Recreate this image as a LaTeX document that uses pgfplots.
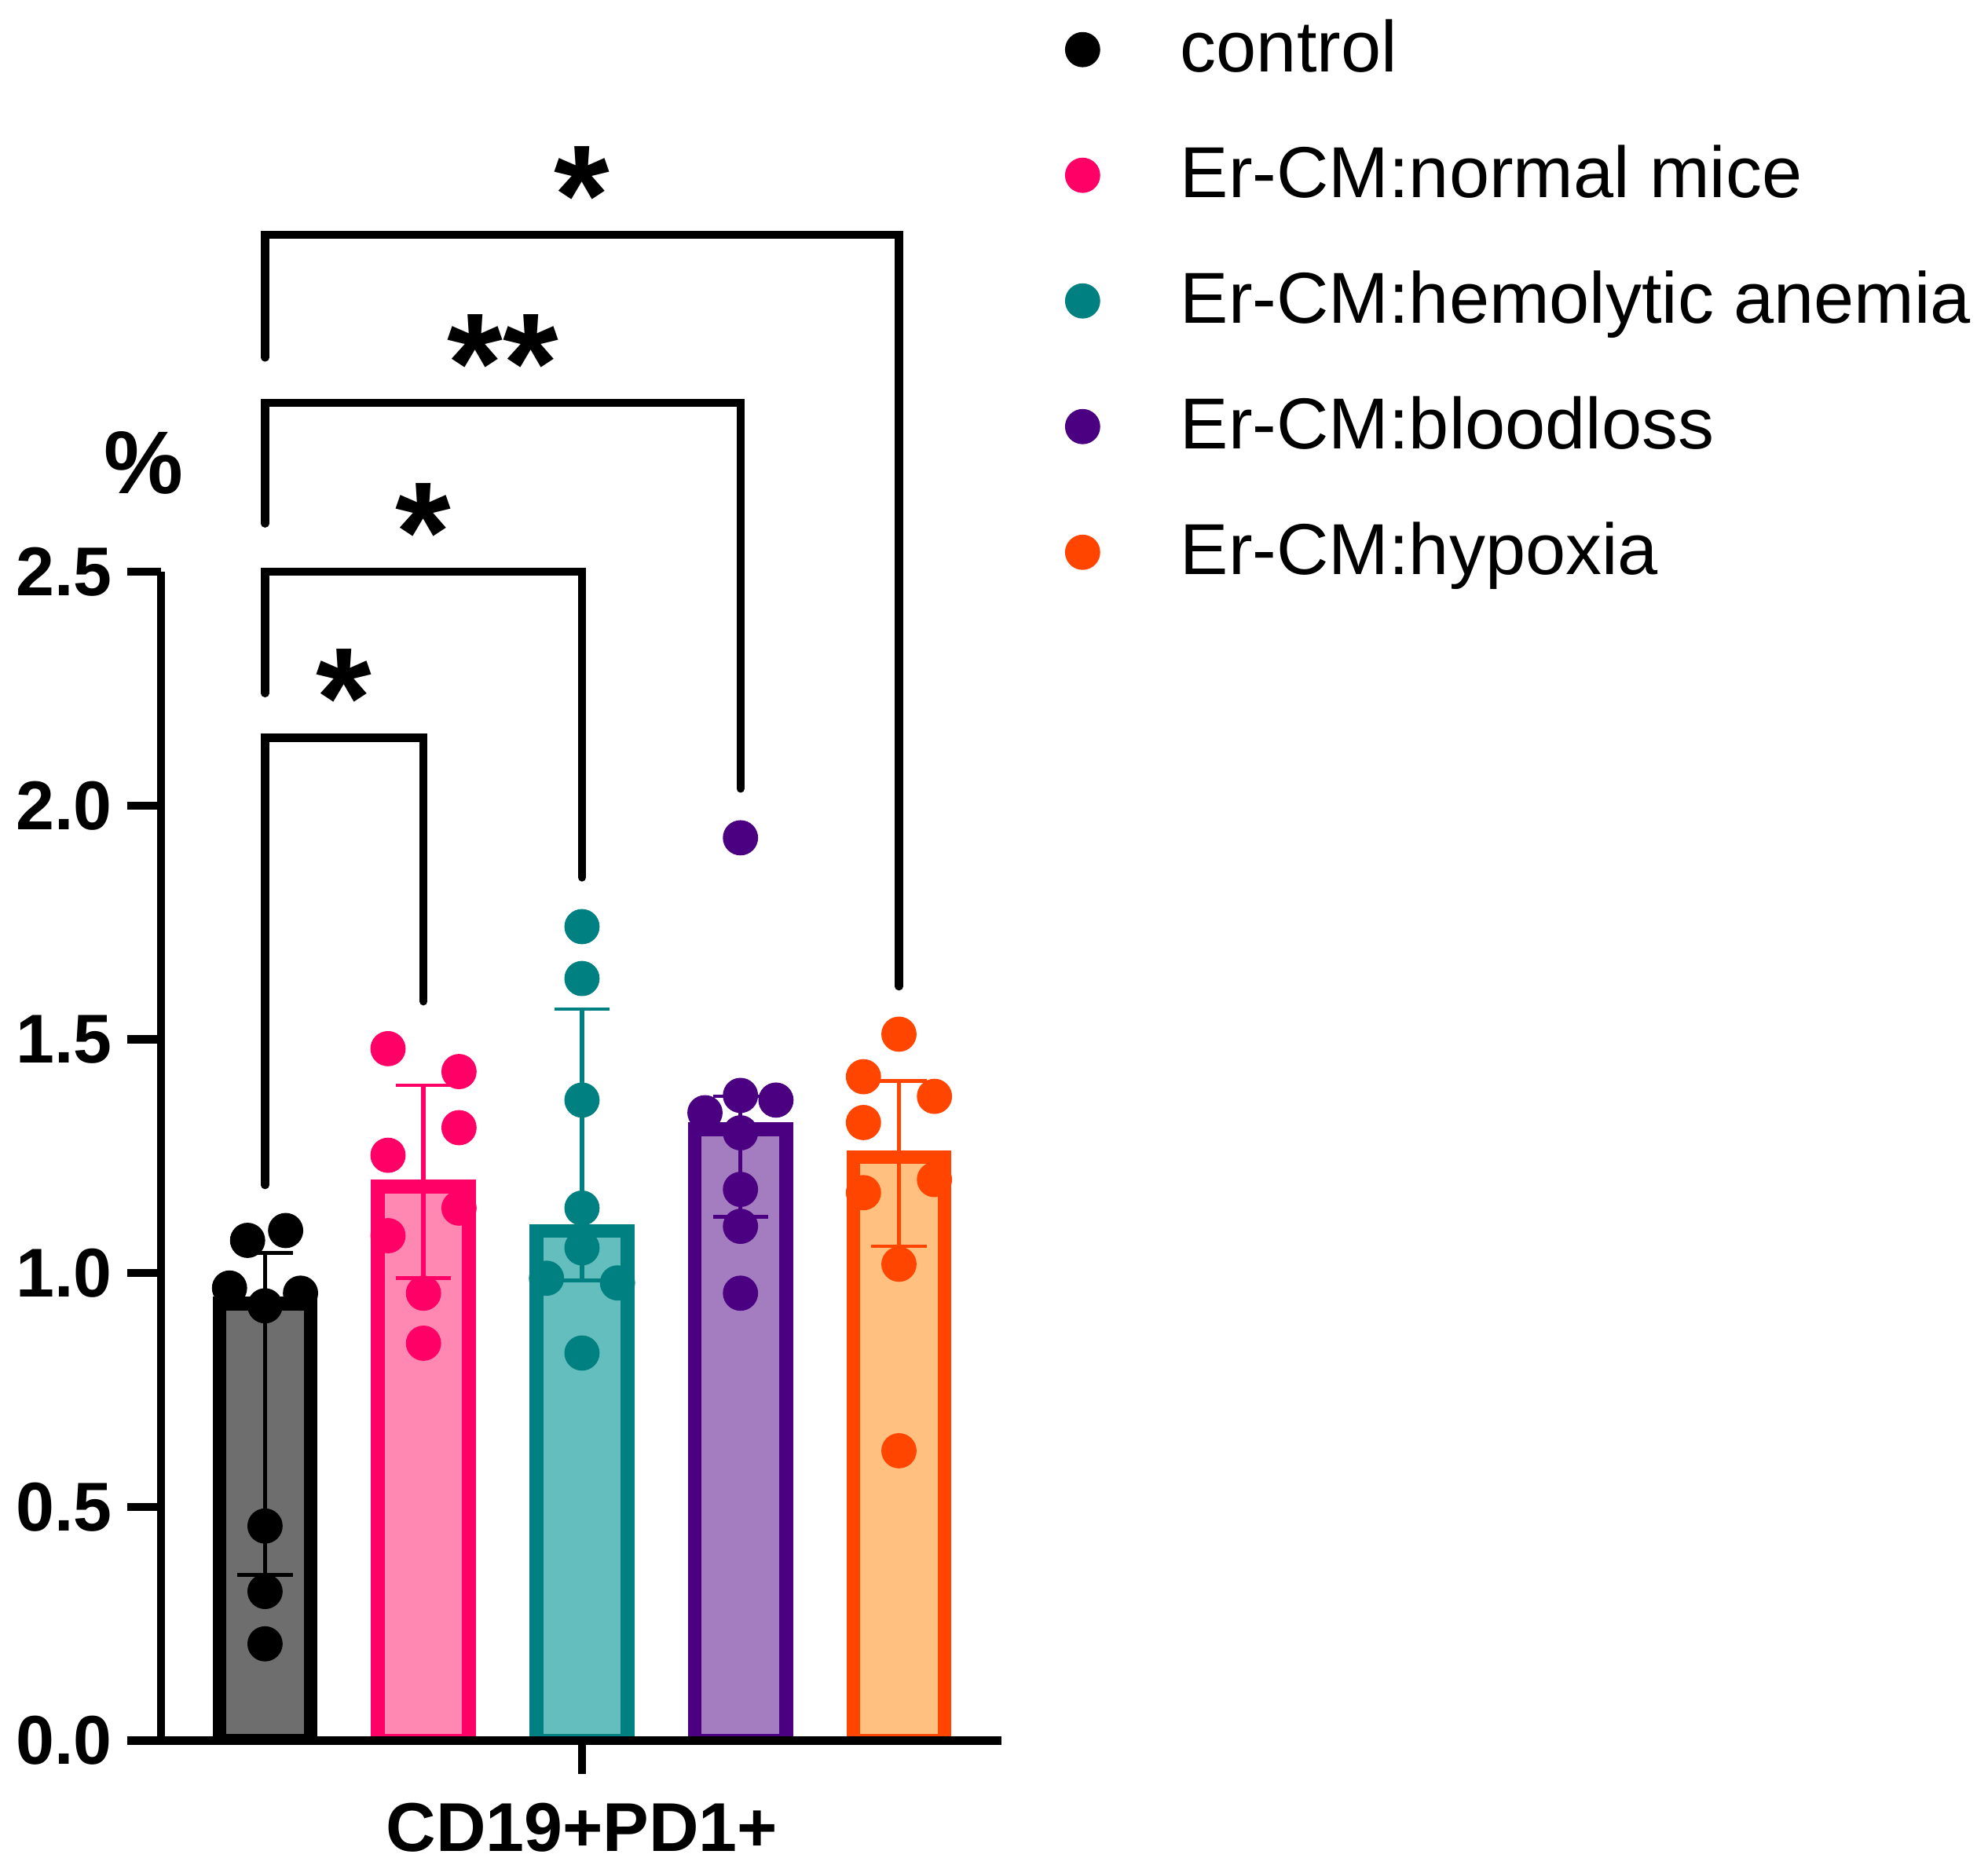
\documentclass[border=0pt]{standalone}
\usepackage{fontspec}
\setmainfont{Liberation Sans}
\usepackage{pgfplots}
\pgfplotsset{compat=1.18}

\definecolor{ctrlfill}{RGB}{110,110,110}
\definecolor{nmline}{RGB}{255,0,102}
\definecolor{nmfill}{RGB}{255,136,178}
\definecolor{haline}{RGB}{0,128,128}
\definecolor{hafill}{RGB}{100,190,190}
\definecolor{blline}{RGB}{75,0,130}
\definecolor{blfill}{RGB}{164,125,192}
\definecolor{hxline}{RGB}{255,69,0}
\definecolor{hxfill}{RGB}{255,192,128}

\pgfplotsset{
  medbar/.style 2 args={ybar, bar width=0.576, bar shift=0pt, line width=3.1pt,
    draw=#1, fill=#2, forget plot,
    error bars/.cd, y dir=both, y explicit,
    error bar style={line width=0.95pt, draw=#1, solid},
    error mark options={rotate=90, line width=0.8pt, mark size=6.2pt, draw=#1}},
  dots/.style={only marks, mark=*, mark size=3.75pt, color=#1,
    mark options={draw=#1, fill=#1}},
  bracket/.style={black, line width=1.8pt, line cap=round, line join=miter,
    no marks, sharp plot, forget plot}
}
\tikzset{sigstar/.style={anchor=base, font=\bfseries\fontsize{32}{36}\selectfont}}

\begin{document}
\begin{tikzpicture}
\begin{axis}[
  scale only axis, width=188.6pt, height=262.3pt,
  xmin=-0.656, xmax=4.648, ymin=0, ymax=2.5,
  axis lines=left, axis line style={line width=1.8pt, -},
  axis on top, clip=false,
  xtick={2}, xticklabels={CD19+PD1+},
  ytick={0,0.5,1,1.5,2,2.5},
  tick align=outside, major tick length=7.5pt,
  tick style={line width=1.8pt, black},
  yticklabel style={/pgf/number format/fixed, /pgf/number format/fixed zerofill,
    /pgf/number format/precision=1, /pgf/number format/assume math mode=true,
    font=\bfseries\fontsize{15.5}{18}\selectfont},
  xticklabel style={yshift=-3pt, font=\bfseries\fontsize{15.5}{18}\selectfont},
  ylabel={\%},
  ylabel style={rotate=-90, at={(axis description cs:-0.021,1.093)}, anchor=center,
    font=\bfseries\fontsize{20}{24}\selectfont},
  legend cell align=left,
  legend style={at={(1.0754,1.478)}, anchor=north west, draw=none, fill=none,
    inner sep=0pt, row sep=12.2pt,
    nodes={inner sep=0pt, text height=13pt, text depth=3pt,
      font=\fontsize{16.2}{19}\selectfont},
    /tikz/every odd column/.append style={column sep=18.2pt}},
]
% medians with interquartile range
\addplot[medbar={black}{ctrlfill}] coordinates {(0,0.935) += (0,0.108) -= (0,0.581)};
\addplot[dots=black] coordinates {(0,0.207) (0,0.319) (0,0.459) (0,0.930)
  (-0.224,0.968) (0.224,0.957) (-0.11,1.070) (0.13,1.091)};
\addlegendentry{control}

\addplot[medbar={nmline}{nmfill}] coordinates {(1,1.185) += (0,0.217) -= (0,0.196)};
\addplot[dots=nmline] coordinates {(1,0.850) (1,0.957) (0.776,1.080) (1.224,1.139)
  (0.776,1.252) (1.224,1.311) (1.224,1.431) (0.776,1.480)};
\addlegendentry{Er-CM:normal mice}

\addplot[medbar={haline}{hafill}] coordinates {(2,1.090) += (0,0.475) -= (0,0.106)};
\addplot[dots=haline] coordinates {(2,0.829) (1.776,0.989) (2.224,0.979) (2,1.054)
  (2,1.139) (2,1.370) (2,1.630) (2,1.741)};
\addlegendentry{Er-CM:hemolytic anemia}

\addplot[medbar={blline}{blfill}] coordinates {(3,1.308) += (0,0.070) -= (0,0.188)};
\addplot[dots=blline] coordinates {(3,0.957) (3,1.100) (3,1.179) (3,1.300)
  (2.776,1.343) (3,1.380) (3.224,1.370) (3,1.931)};
\addlegendentry{Er-CM:bloodloss}

\addplot[medbar={hxline}{hxfill}] coordinates {(4,1.248) += (0,0.163) -= (0,0.191)};
\addplot[dots=hxline] coordinates {(4,0.620) (4,1.019) (3.776,1.172) (4.224,1.200)
  (3.776,1.322) (4.224,1.378) (3.776,1.420) (4,1.511)};
\addlegendentry{Er-CM:hypoxia}

% hide the bar outlines below the baseline
\addplot[white, line width=1.1pt, no marks, forget plot]
  coordinates {(-0.4,-0.012) (4.4,-0.012)};

% significance brackets
\addplot[bracket] coordinates {(0,1.188) (0,2.145) (1,2.145) (1,1.581)};
\addplot[bracket] coordinates {(0,2.240) (0,2.500) (2,2.500) (2,1.846)};
\addplot[bracket] coordinates {(0,2.603) (0,2.861) (3,2.861) (3,2.036)};
\addplot[bracket] coordinates {(0,2.958) (0,3.221) (4,3.221) (4,1.613)};
\node[sigstar] at (axis cs:0.5,2.124) {*};
\node[sigstar] at (axis cs:1,2.479) {*};
\node[sigstar] at (axis cs:1.5,2.840) {**};
\node[sigstar] at (axis cs:2,3.200) {*};

\coordinate (bbA) at (rel axis cs:-0.1916,-0.1095);
\coordinate (bbB) at (rel axis cs:2.1734,1.4892);
\end{axis}
\pgfresetboundingbox
\path[use as bounding box] (bbA) rectangle (bbB);
\end{tikzpicture}
\end{document}
